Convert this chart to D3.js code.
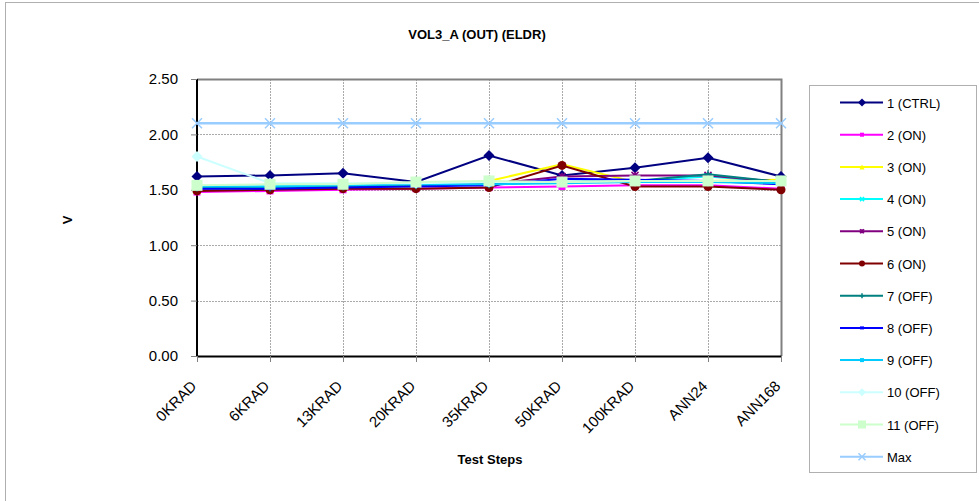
<!DOCTYPE html>
<html lang="en">
<head>
    <meta charset="UTF-8">
    <title>VOL3_A (OUT) (ELDR)</title>
    <script src="https://cdn.jsdelivr.net/npm/d3@7"></script>
    <style>
        body { margin: 0; background: #fff; }
        text { font-family: Arial, "Liberation Sans", sans-serif; }
    </style>
</head>
<body>
    <div id="chart-space"></div>

    <script>
        var steps = ["0KRAD", "6KRAD", "13KRAD", "20KRAD", "35KRAD", "50KRAD", "100KRAD", "ANN24", "ANN168"];
        var yTicks = [0, 0.5, 1.0, 1.5, 2.0, 2.5];

        var ctrl1 = [1.62, 1.63, 1.65, 1.57, 1.81, 1.63, 1.70, 1.79, 1.62];
        var on2   = [1.48, 1.49, 1.50, 1.51, 1.52, 1.53, 1.54, 1.54, 1.51];
        var on3   = [1.50, 1.51, 1.52, 1.53, 1.58, 1.73, 1.57, 1.58, 1.59];
        var on4   = [1.52, 1.53, 1.54, 1.55, 1.56, 1.57, 1.58, 1.62, 1.57];
        var on5   = [1.51, 1.52, 1.53, 1.54, 1.55, 1.62, 1.63, 1.63, 1.57];
        var on6   = [1.49, 1.50, 1.51, 1.51, 1.52, 1.72, 1.53, 1.53, 1.50];
        var off7  = [1.52, 1.52, 1.53, 1.54, 1.55, 1.57, 1.58, 1.64, 1.57];
        var off8  = [1.51, 1.51, 1.52, 1.53, 1.54, 1.60, 1.59, 1.58, 1.55];
        var off9  = [1.53, 1.53, 1.54, 1.55, 1.55, 1.56, 1.57, 1.57, 1.56];
        var off10 = [1.80, 1.56, 1.56, 1.56, 1.57, 1.57, 1.58, 1.58, 1.58];
        var off11 = [1.54, 1.55, 1.55, 1.57, 1.58, 1.57, 1.58, 1.58, 1.58];
        var maxV  = [2.10, 2.10, 2.10, 2.10, 2.10, 2.10, 2.10, 2.10, 2.10];

        var series = [
            {name: "1 (CTRL)", values: ctrl1, color: "#000080", marker: "diamond", size: 9},
            {name: "2 (ON)", values: on2, color: "#FF00FF", marker: "square", size: 7},
            {name: "3 (ON)", values: on3, color: "#FFFF00", marker: "triangle", size: 8},
            {name: "4 (ON)", values: on4, color: "#00FFFF", marker: "x", size: 7},
            {name: "5 (ON)", values: on5, color: "#800080", marker: "star", size: 7},
            {name: "6 (ON)", values: on6, color: "#800000", marker: "circle", size: 9},
            {name: "7 (OFF)", values: off7, color: "#008080", marker: "plus", size: 8},
            {name: "8 (OFF)", values: off8, color: "#0000FF", marker: "dash", size: 5},
            {name: "9 (OFF)", values: off9, color: "#00CCFF", marker: "square", size: 5},
            {name: "10 (OFF)", values: off10, color: "#CCFFFF", marker: "diamond", size: 9},
            {name: "11 (OFF)", values: off11, color: "#CCFFCC", marker: "square", size: 11},
            {name: "Max", values: maxV, color: "#99CCFF", marker: "x", size: 10}
        ];

        var width = 979, height = 501;
        var plot = {left: 197, right: 781, top: 79, bottom: 356};

        var svg = d3.select("#chart-space").append("svg")
            .attr("width", width)
            .attr("height", height);

        // outer chart border
        svg.append("rect")
            .attr("x", 5.5).attr("y", 2.5)
            .attr("width", 1000).attr("height", 520)
            .attr("fill", "none").attr("stroke", "#b0b0b0");

        var x = d3.scalePoint().domain(steps).range([plot.left, plot.right]).padding(0);
        var y = d3.scaleLinear().domain([0, 2.5]).range([plot.bottom, plot.top]);

        // gridlines
        svg.append("g").selectAll("line.hg")
            .data(yTicks.slice(1, -1))
            .join("line")
            .attr("x1", plot.left).attr("x2", plot.right)
            .attr("y1", function(d) { return Math.round(y(d)) + 0.5; })
            .attr("y2", function(d) { return Math.round(y(d)) + 0.5; })
            .attr("stroke", "#aaa").attr("stroke-dasharray", "2,1").attr("stroke-width", 1);

        svg.append("g").selectAll("line.vg")
            .data(steps.slice(1, -1))
            .join("line")
            .attr("x1", function(d) { return Math.round(x(d)) + 0.5; })
            .attr("x2", function(d) { return Math.round(x(d)) + 0.5; })
            .attr("y1", plot.top).attr("y2", plot.bottom)
            .attr("stroke", "#aaa").attr("stroke-dasharray", "2,1").attr("stroke-width", 1);

        // plot area top/right border
        svg.append("path")
            .attr("d", "M" + plot.left + "," + (plot.top + 0.5) + "H" + (plot.right + 0.5) + "V" + plot.bottom)
            .attr("fill", "none").attr("stroke", "#808080").attr("stroke-width", 2);

        // axes
        var yAxis = svg.append("g")
            .attr("transform", "translate(" + plot.left + ",0)")
            .call(d3.axisLeft(y).tickValues(yTicks).tickFormat(d3.format(".2f")).tickSize(6).tickPadding(13));
        yAxis.select(".domain").attr("stroke", "#000").attr("stroke-width", 2).attr("d", "M0," + plot.top + "V" + plot.bottom);
        yAxis.selectAll(".tick line").attr("stroke", "#808080");
        yAxis.selectAll("text").attr("font-size", 15).attr("fill", "#000")
            .style("font-family", "Arial, 'Liberation Sans', sans-serif");

        var xAxis = svg.append("g")
            .attr("transform", "translate(0," + plot.bottom + ")")
            .call(d3.axisBottom(x).tickSize(6).tickSizeOuter(0));
        xAxis.select(".domain").attr("stroke", "#000").attr("stroke-width", 2);
        xAxis.selectAll(".tick line").attr("stroke", "#808080");
        xAxis.selectAll("text")
            .attr("font-size", 15).attr("fill", "#000")
            .style("font-family", "Arial, 'Liberation Sans', sans-serif")
            .attr("text-anchor", "end")
            .attr("dy", 0)
            .attr("y", 0)
            .attr("transform", "translate(0,31) rotate(-45)");

        // marker drawing
        function drawMarker(g, type, size, color) {
            var s = size / 2;
            if (type === "diamond") {
                g.append("path").attr("d", "M0," + (-s - 1) + "L" + (s + 1) + ",0L0," + (s + 1) + "L" + (-s - 1) + ",0Z").attr("fill", color);
            } else if (type === "square") {
                g.append("rect").attr("x", -s).attr("y", -s).attr("width", size).attr("height", size).attr("fill", color);
            } else if (type === "triangle") {
                g.append("path").attr("d", "M0," + (-s) + "L" + s + "," + s + "L" + (-s) + "," + s + "Z").attr("fill", color);
            } else if (type === "circle") {
                g.append("circle").attr("r", s).attr("fill", color);
            } else if (type === "x") {
                g.append("path").attr("d", "M" + (-s) + "," + (-s) + "L" + s + "," + s + "M" + s + "," + (-s) + "L" + (-s) + "," + s)
                    .attr("stroke", color).attr("stroke-width", 1.5);
            } else if (type === "star") {
                g.append("path").attr("d", "M" + (-s) + "," + (-s) + "L" + s + "," + s + "M" + s + "," + (-s) + "L" + (-s) + "," + s + "M0," + (-s) + "V" + s)
                    .attr("stroke", color).attr("stroke-width", 1.5);
            } else if (type === "plus") {
                g.append("path").attr("d", "M0," + (-s) + "V" + s + "M" + (-s) + ",0H" + s)
                    .attr("stroke", color).attr("stroke-width", 1.5);
            } else if (type === "dash") {
                g.append("rect").attr("x", -s).attr("y", -1.5).attr("width", size).attr("height", 3).attr("fill", color);
            }
        }

        var line = d3.line()
            .x(function(d, i) { return x(steps[i]); })
            .y(function(d) { return y(d); });

        series.forEach(function(s) {
            var g = svg.append("g");
            g.append("path")
                .datum(s.values)
                .attr("d", line)
                .attr("fill", "none")
                .attr("stroke", s.color)
                .attr("stroke-width", s.name === "Max" ? 2.5 : 2);
            s.values.forEach(function(v, i) {
                var m = g.append("g").attr("transform", "translate(" + x(steps[i]) + "," + y(v) + ")");
                drawMarker(m, s.marker, s.size, s.color);
            });
        });

        // titles
        svg.append("text")
            .attr("x", 477).attr("y", 39)
            .attr("text-anchor", "middle")
            .attr("font-size", 13).attr("font-weight", "bold")
            .text("VOL3_A (OUT) (ELDR)");

        svg.append("text")
            .attr("transform", "translate(72,220) rotate(-90)")
            .attr("text-anchor", "middle")
            .attr("font-size", 13).attr("font-weight", "bold")
            .text("V");

        svg.append("text")
            .attr("x", 490).attr("y", 464)
            .attr("text-anchor", "middle")
            .attr("font-size", 13).attr("font-weight", "bold")
            .text("Test Steps");

        // legend
        var legend = svg.append("g");
        legend.append("rect")
            .attr("x", 809.5).attr("y", 85.5)
            .attr("width", 167).attr("height", 387)
            .attr("fill", "#fff").attr("stroke", "#b0b0b0");

        var item = legend.selectAll("g.item")
            .data(series)
            .join("g")
            .attr("class", "item")
            .attr("transform", function(d, i) { return "translate(0," + (102.5 + i * 32.2) + ")"; });

        item.append("line")
            .attr("x1", 840).attr("x2", 883)
            .attr("stroke", function(d) { return d.color; })
            .attr("stroke-width", 2);

        item.each(function(d) {
            var m = d3.select(this).append("g").attr("transform", "translate(862,0)");
            drawMarker(m, d.marker, Math.max(4, d.size - 3), d.color);
        });

        item.append("text")
            .attr("x", 887).attr("y", 5)
            .attr("font-size", 13)
            .text(function(d) { return d.name; });
    </script>
</body>
</html>
